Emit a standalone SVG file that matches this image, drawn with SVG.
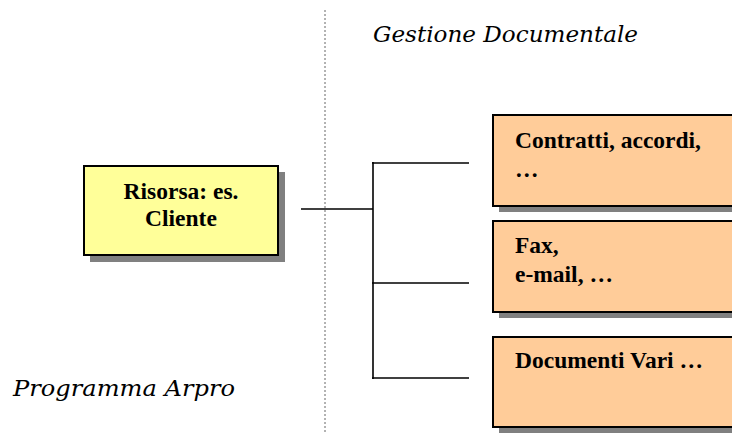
<svg xmlns="http://www.w3.org/2000/svg" width="732" height="434" viewBox="0 0 732 434">
<style>
.shadow{fill:#808080;stroke:none}
.box{stroke:#000;stroke-width:2}
.yel{fill:#FFFF99}
.org{fill:#FFCC99}
.lbl{font-family:"Liberation Serif","Times New Roman",serif;font-weight:bold;font-size:23.5px;fill:#000}
.ital{font-family:"DejaVu Serif","Liberation Serif",serif;font-style:italic;font-size:22.5px;fill:#000}
.conn{stroke:#000;stroke-width:1.6;fill:none}
</style>
<rect width="732" height="434" fill="#fff"/>
<line x1="325" y1="10" x2="325" y2="434" stroke="#666" stroke-width="1" stroke-dasharray="2,2"/>
<text class="ital" x="373" y="42" textLength="265" lengthAdjust="spacingAndGlyphs">Gestione Documentale</text>
<text class="ital" x="13" y="396" textLength="222" lengthAdjust="spacingAndGlyphs">Programma Arpro</text>
<g id="connectors">
<line class="conn" x1="301" y1="209" x2="373" y2="209"/>
<line class="conn" x1="373" y1="162" x2="373" y2="379"/>
<line class="conn" x1="372" y1="163" x2="469" y2="163"/>
<line class="conn" x1="372" y1="283" x2="469" y2="283"/>
<line class="conn" x1="372" y1="378" x2="469" y2="378"/>
</g>
<g id="node-risorsa">
<rect class="shadow" x="90" y="172" width="195" height="90"/>
<rect class="box yel" x="84" y="166" width="194" height="89"/>
<text class="lbl" x="181" y="199" text-anchor="middle">Risorsa: es.</text>
<text class="lbl" x="181" y="226" text-anchor="middle">Cliente</text>
</g>
<g id="node-contratti">
<rect class="shadow" x="499" y="121" width="260" height="91"/>
<rect class="box org" x="493" y="115" width="260" height="91"/>
<text class="lbl" x="515" y="148">Contratti, accordi,</text>
<text class="lbl" x="515" y="177">…</text>
</g>
<g id="node-fax">
<rect class="shadow" x="499" y="227" width="260" height="91"/>
<rect class="box org" x="493" y="221" width="260" height="91"/>
<text class="lbl" x="515" y="253">Fax,</text>
<text class="lbl" x="515" y="282">e-mail, …</text>
</g>
<g id="node-documenti">
<rect class="shadow" x="499" y="343" width="260" height="90"/>
<rect class="box org" x="493" y="337" width="260" height="90"/>
<text class="lbl" x="515" y="368">Documenti Vari …</text>
</g>
</svg>
